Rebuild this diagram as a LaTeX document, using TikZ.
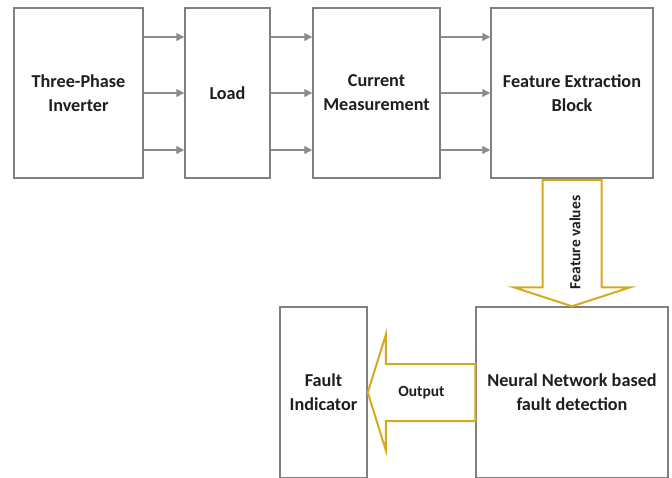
\documentclass[tikz,border=0pt]{standalone}
\usepackage{fontspec}
\setmainfont{Carlito}
\usetikzlibrary{arrows.meta,calc}
\definecolor{boxgray}{RGB}{128,128,128}
\definecolor{arrowgray}{RGB}{140,140,140}
\definecolor{blockgold}{RGB}{214,170,30}
\definecolor{labeltext}{RGB}{30,30,30}

\begin{document}
\begin{tikzpicture}[x=1pt,y=-1pt,
  block/.style={draw=boxgray, line width=1.5pt, fill=white, text=labeltext, font=\fontsize{18.2}{24}\selectfont\bfseries, align=center, inner sep=0pt},
  flow/.style={-{Triangle[length=8pt,width=8pt]}, draw=arrowgray, fill=arrowgray, line width=1.3pt},
  fat/.style={draw=blockgold, line width=2pt, fill=white, line join=miter},
  tag/.style={text=labeltext, font=\fontsize{15.5}{18}\selectfont\bfseries}]
  \useasboundingbox (0,0) rectangle (672,477);
  \fill[white] (0,0) rectangle (672,477);

  % Measurement chain
  \node[block, minimum width=129pt, minimum height=170pt] (inv) at (78.5,93) {Three-Phase\\Inverter};
  \node[block, minimum width=85pt, minimum height=170pt] (load) at (227.5,93) {Load};
  \node[block, minimum width=127pt, minimum height=170pt] (meas) at (376.5,93) {Current\\Measurement};
  \node[block, minimum width=162pt, minimum height=170pt] (feat) at (572,93) {Feature Extraction\\Block};

  % Three phase lines
  \foreach \a/\b in {inv/load, load/meas, meas/feat}
    \foreach \s in {56,0,-57}
      \draw[flow] ([yshift=\s pt]\a.east) -- ([yshift=\s pt]\b.west);

  % Detection stage
  \node[block, minimum width=87pt, minimum height=171pt] (fault) at (323.5,392.5) {Fault\\Indicator};
  \node[block, minimum width=192pt, minimum height=171pt] (nn) at (572,392.5) {Neural Network based\\fault detection};

  % Block arrows
  \draw[fat] ($(feat.south)+(-29.5,1)$) -- ($(feat.south)+(29.5,1)$) -- ($(nn.north)+(29.5,-19)$)
    -- ($(nn.north)+(58.5,-19)$) -- (nn.north) -- ($(nn.north)+(-58.5,-19)$)
    -- ($(nn.north)+(-29.5,-19)$) -- cycle;
  \node[tag, rotate=90] (fv) at ($($(feat.south)!0.5!(nn.north)$)+(3,0)$) {Feature values};

  \draw[fat] ($(nn.west)+(0,-28.5)$) -- ($(fault.east)+(18,-28.5)$) -- ($(fault.east)+(18,-57.5)$)
    -- (fault.east) -- ($(fault.east)+(18,57.5)$) -- ($(fault.east)+(18,28.5)$)
    -- ($(nn.west)+(0,28.5)$) -- cycle;
  \node[tag] (out) at ($(fault.east)!0.5!(nn.west)$) {Output};
\end{tikzpicture}
\end{document}
